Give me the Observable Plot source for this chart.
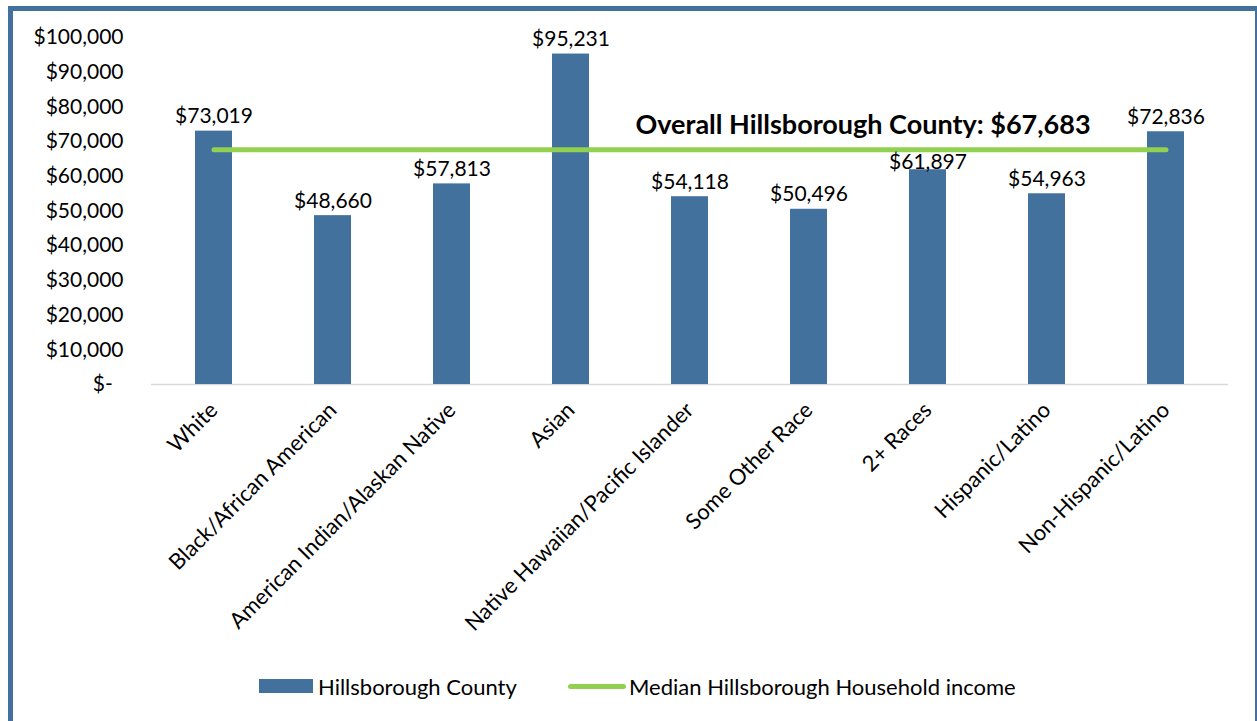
<!DOCTYPE html>
<html>
<head>
<meta charset="utf-8">
<script src="https://cdn.jsdelivr.net/npm/d3@7"></script>
<script src="https://cdn.jsdelivr.net/npm/@observablehq/plot@0.6"></script>
<style>
  html, body { margin: 0; padding: 0; background: #fff; width: 1257px; height: 721px; overflow: hidden; }
  body { font-family: Lato, "Open Sans", sans-serif; position: relative; }
  #frame { position: absolute; left: 8px; top: 6px; width: 1242px; height: 740px; border: 5px solid #41719C; pointer-events: none; }
  #chart { position: absolute; left: 0; top: 0; }
  #legend { position: absolute; top: 672px; left: 0; width: 1257px; height: 28px; font-size: 22px; color: #000; }
  .li { position: absolute; top: 0; display: flex; align-items: center; height: 28px; }
  .sw-bar { width: 54px; height: 14px; background: #41719C; margin-right: 5px; }
  .sw-line { width: 58px; height: 5px; border-radius: 3px; background: #92D050; margin-right: 3px; }
</style>
</head>
<body>
<div id="chart"></div>
<div id="legend">
  <div class="li" style="left:259px"><div class="sw-bar"></div><span id="lg1"></span></div>
  <div class="li" style="left:568px"><div class="sw-line"></div><span id="lg2"></span></div>
</div>
<div id="frame"></div>
<script>
const categories = ["White", "Black/African American", "American Indian/Alaskan Native", "Asian", "Native Hawaiian/Pacific Islander", "Some Other Race", "2+ Races", "Hispanic/Latino", "Non-Hispanic/Latino"];
const incomes = [73019, 48660, 57813, 95231, 54118, 50496, 61897, 54963, 72836];
const overallMedian = 67683;
const yTicks = [0, 10000, 20000, 30000, 40000, 50000, 60000, 70000, 80000, 90000, 100000];
const seriesBar = "Hillsborough County";
const seriesLine = "Median Hillsborough Household income";
const annotation = "Overall Hillsborough County: $67,683";

document.getElementById("lg1").textContent = seriesBar;
document.getElementById("lg2").textContent = seriesLine;

const data = categories.map((c, i) => ({category: c, value: incomes[i]}));
const lineData = [
  {category: categories[0], value: overallMedian},
  {category: categories[categories.length - 1], value: overallMedian}
];
const fmt = d3.format(",");
const money = d => d === 0 ? "$-\u00a0\u00a0" : "$" + fmt(d);
const tight = "2+ Races";

const chart = Plot.plot({
  width: 1257,
  height: 650,
  marginLeft: 151,
  marginRight: 29,
  marginTop: 37,
  marginBottom: 266,
  style: {fontFamily: "Lato, 'Open Sans', sans-serif", fontSize: "21px", color: "#000", background: "transparent"},
  x: {domain: categories, paddingInner: 0.69, paddingOuter: 0.345, label: null},
  y: {domain: [0, 100000], label: null},
  marks: [
    Plot.axisY({ticks: yTicks, tickSize: 0, tickPadding: 28, tickFormat: money, fontSize: 21, label: null}),
    Plot.axisX({tickSize: 0, tickPadding: 22, tickRotate: -45, fontSize: 22, label: null}),
    Plot.ruleY([0], {stroke: "#d9d9d9", strokeWidth: 1.5}),
    Plot.barY(data, {x: "category", y: "value", fill: "#41719C"}),
    Plot.line(lineData, {x: "category", y: "value", stroke: "#92D050", strokeWidth: 5, strokeLinecap: "round"}),
    Plot.text(data.filter(d => d.category !== tight), {x: "category", y: "value", text: d => "$" + fmt(d.value), lineAnchor: "bottom", dy: -8, fontSize: 21, fill: "#000"}),
    Plot.text(data.filter(d => d.category === tight), {x: "category", y: "value", text: d => "$" + fmt(d.value), lineAnchor: "bottom", dy: -1, fontSize: 21, fill: "#000"}),
    Plot.text([{category: "2+ Races", value: overallMedian}], {x: "category", y: "value", text: () => annotation, dx: -65, dy: -24, fontSize: 27, fontWeight: "bold", fill: "#000"})
  ]
});
document.getElementById("chart").appendChild(chart);
</script>
</body>
</html>
